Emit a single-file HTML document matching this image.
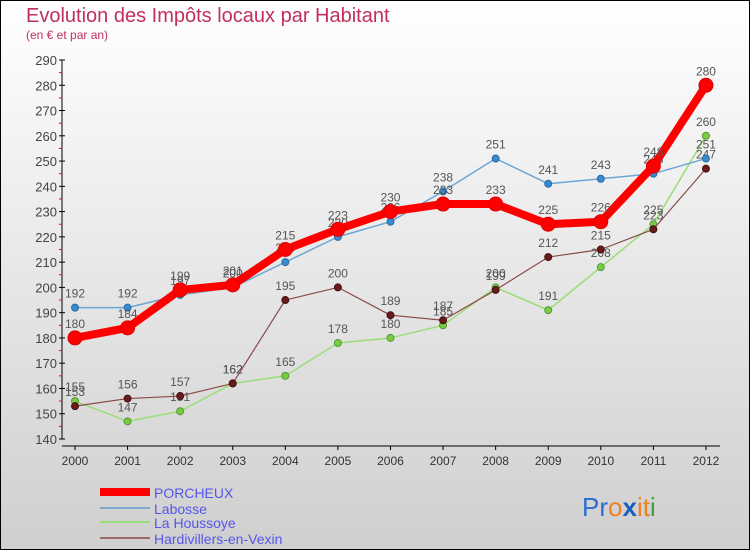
<!DOCTYPE html>
<html><head><meta charset="utf-8"><style>
body{margin:0;}
#c{width:750px;height:550px;position:relative;overflow:hidden;}
svg text{font-family:"Liberation Sans",sans-serif;}
</style></head><body>
<div id="c">
<svg id="s" width="750" height="550" xmlns="http://www.w3.org/2000/svg">
<defs><linearGradient id="bg" x1="0" y1="0" x2="0" y2="1"><stop offset="0" stop-color="#ffffff"/><stop offset="1" stop-color="#cfcfcf"/></linearGradient></defs>
<rect x="0.5" y="0.5" width="749" height="549" fill="url(#bg)" stroke="#000"/>
<text x="26" y="22" font-size="20" fill="#c0305a">Evolution des Impôts locaux par Habitant</text>
<text x="26" y="39" font-size="12" fill="#c0305a">(en € et par an)</text>
<g id="axes"></g><g id="series"></g>
<g>
<rect x="100" y="488" width="50" height="8" fill="#f00"/>
<text x="154" y="498" font-size="14" fill="#5555ee">PORCHEUX</text>
<rect x="100" y="507" width="50" height="2" fill="#7fa8cc"/>
<text x="154" y="514" font-size="14" fill="#5555ee">Labosse</text>
<rect x="100" y="521" width="50" height="2" fill="#99dd77"/>
<text x="154" y="528" font-size="14" fill="#5555ee">La Houssoye</text>
<rect x="100" y="537" width="50" height="2" fill="#9a6a6a"/>
<text x="154" y="544" font-size="14" fill="#5555ee">Hardivillers-en-Vexin</text>
</g>
<g font-size="26">
<text x="582" y="516"><tspan fill="#2a6fd0">Pr</tspan><tspan fill="#f08020">o</tspan><tspan fill="#1a5fc0" font-weight="bold">x</tspan><tspan fill="#f08020">it</tspan><tspan fill="#40a040">i</tspan></text>
</g>
</svg></div>
<script>
const years=[2000,2001,2002,2003,2004,2005,2006,2007,2008,2009,2010,2011,2012];
const porcheux=[180,184,199,201,215,223,230,233,233,225,226,248,280];
const labosse=[192,192,197,200,210,220,226,238,251,241,243,245,251];
const houssoye=[155,147,151,162,165,178,180,185,200,191,208,225,260];
const hardivillers=[153,156,157,162,195,200,189,187,199,212,215,223,247];
const yTicks=[140,150,160,170,180,190,200,210,220,230,240,250,260,270,280,290];
const NS="http://www.w3.org/2000/svg";
const X=i=>75+i*52.58;
const Y=v=>439-(v-140)*(379/150);
function mk(t,a,p){const e=document.createElementNS(NS,t);for(const k in a)e.setAttribute(k,a[k]);p.appendChild(e);return e;}
const ax=document.getElementById('axes');
let l=mk('line',{x1:62,y1:Y(290),x2:62,y2:Y(140),stroke:'#000'},ax);


l=mk('line',{x1:62,y1:446,x2:720,y2:446,stroke:'#000'},ax);


yTicks.forEach(v=>{
 mk('line',{x1:59,y1:Y(v),x2:65,y2:Y(v),stroke:'#000'},ax);
 if(v<290)mk('line',{x1:59,y1:Y(v+5),x2:62,y2:Y(v+5),stroke:'#f00'},ax);
 const t=mk('text',{x:57,y:Y(v)+5,'font-size':13,fill:'#444','text-anchor':'end'},ax);t.textContent=v;
 
 
});
years.forEach((y,i)=>{
 mk('line',{x1:X(i),y1:446,x2:X(i),y2:450,stroke:'#000'},ax);
 const t=mk('text',{x:X(i),y:465,'font-size':12,fill:'#333','text-anchor':'middle'},ax);t.textContent=y;
 
 
});
const sg=document.getElementById('series');
function draw(vals,name,lc,w,dc,r,ds){
 const g=mk('g',{},sg);
 
 
 const p=mk('polyline',{points:vals.map((v,i)=>X(i)+','+Y(v)).join(' '),fill:'none',stroke:lc,'stroke-width':w,'stroke-linejoin':'round'},g);
 
 
 vals.forEach((v,i)=>{
  const c=mk('circle',{cx:X(i),cy:Y(v),r:r,fill:dc,stroke:ds,'stroke-width':1},g);
  
  
  const t=mk('text',{x:X(i),y:Y(v)-10,'font-size':12,fill:'#555','text-anchor':'middle'},g);t.textContent=v;
  
  
 });
}
draw(houssoye,'la-houssoye','#99dd77',1.5,'#77cc44',3.5,'#559933');
draw(hardivillers,'hardivillers-en-vexin','#8a4a4a',1.2,'#6a1a1a',3.5,'#441111');
draw(labosse,'labosse','#6aa6d6',1.5,'#3a8ad0',3.5,'#2a6aa0');
draw(porcheux,'porcheux','#f00',8,'#f00',7,'#d00');
</script>
</body></html>
